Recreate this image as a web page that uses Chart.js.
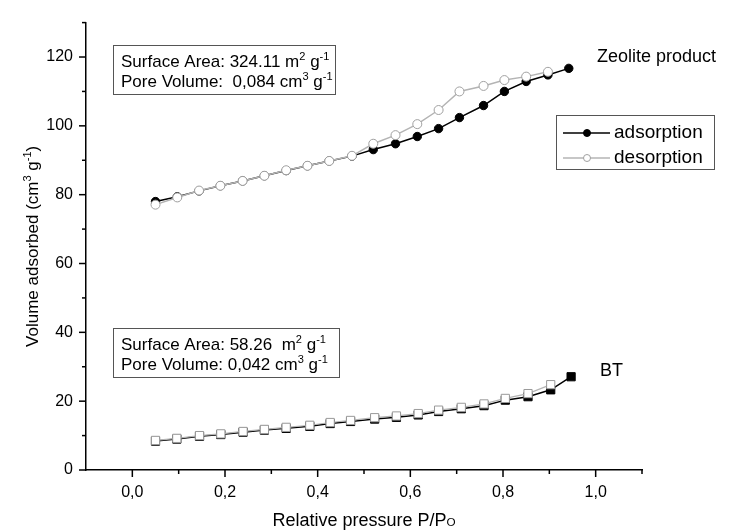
<!DOCTYPE html>
<html lang="en">
<head>
<meta charset="UTF-8">
<title>Isotherms</title>
<script src="https://cdn.jsdelivr.net/npm/chart.js"></script>
<style>
  html, body { margin: 0; padding: 0; background: #fff; }
  #wrap { width: 731px; height: 531px; }
</style>
</head>
<body>
<div id="wrap"><canvas id="chart" width="731" height="531"></canvas></div>
<script>
// relative pressure P/Po
const zeoP = [0.05, 0.097, 0.144, 0.19, 0.238, 0.285, 0.332, 0.378, 0.425, 0.474,
              0.52, 0.568, 0.615, 0.661, 0.706, 0.758, 0.803, 0.85, 0.897, 0.942];
const zeoAds = [78, 79.4, 81.1, 82.6, 84, 85.5, 87, 88.4, 89.8, 91.2,
                93.1, 94.8, 96.9, 99.2, 102.4, 105.9, 110, 112.9, 114.8, 116.7];
const zeoDes = [77.1, 79.2, 81.2, 82.6, 84, 85.5, 87.1, 88.4, 89.8, 91.3,
                94.8, 97.3, 100.5, 104.6, 110, 111.6, 113.3, 114.3, 115.7];

const btP = [0.05, 0.096, 0.145, 0.191, 0.239, 0.285, 0.332, 0.383, 0.427, 0.471,
             0.523, 0.57, 0.617, 0.661, 0.71, 0.759, 0.805, 0.854, 0.903, 0.947];
const btAds = [8.4, 9.0, 9.8, 10.3, 11.0, 11.6, 12.1, 12.7, 13.5, 14.1,
               14.8, 15.3, 16.0, 17.0, 17.8, 18.7, 20.3, 21.3, 23.3, 27.1];
const btDes = [8.6, 9.2, 10.0, 10.5, 11.2, 11.8, 12.4, 13.0, 13.8, 14.4,
               15.2, 15.7, 16.4, 17.4, 18.2, 19.2, 20.8, 22.2, 24.8];

const xMajor = [0, 0.2, 0.4, 0.6, 0.8, 1.0];
const xMinor = [0.1, 0.3, 0.5, 0.7, 0.9, 1.1];
const yMajor = [0, 20, 40, 60, 80, 100, 120];
const yMinor = [10, 30, 50, 70, 90, 110, 130];

const FONT = '"Liberation Sans", Arial, sans-serif';
const pts = (xs, ys) => ys.map((y, i) => ({ x: xs[i], y: y }));

// text with superscripts: parts = [[text, 'sup'|'sub'|''], ...]
function richWidth(ctx, parts, size) {
  let w = 0;
  parts.forEach(([t, k]) => {
    ctx.font = (k ? size * 0.65 : size) + 'px ' + FONT;
    w += ctx.measureText(t).width;
  });
  return w;
}
function drawRich(ctx, parts, x, y, size, align) {
  ctx.textBaseline = 'middle';
  ctx.textAlign = 'left';
  let cx = align === 'center' ? x - richWidth(ctx, parts, size) / 2 : x;
  parts.forEach(([t, k]) => {
    const s = k ? size * 0.65 : size;
    ctx.font = s + 'px ' + FONT;
    let dy = 0;
    if (k === 'sup') dy = -size * 0.3;
    if (k === 'sub') dy = size * 0.12;
    ctx.fillText(t, cx, y + dy);
    cx += ctx.measureText(t).width;
  });
}

const decor = {
  id: 'decor',
  afterDraw(chart) {
    const ctx = chart.ctx;
    const xs = chart.scales.x, ys = chart.scales.y;
    const ca = chart.chartArea;
    ctx.save();
    ctx.strokeStyle = '#000';
    ctx.lineWidth = 1.5;
    // tick marks
    const tick = (x1, y1, x2, y2) => { ctx.beginPath(); ctx.moveTo(x1, y1); ctx.lineTo(x2, y2); ctx.stroke(); };
    xMajor.forEach(v => { const px = xs.getPixelForValue(v); tick(px, ca.bottom, px, ca.bottom + 7); });
    xMinor.forEach(v => { const px = xs.getPixelForValue(v); tick(px, ca.bottom, px, ca.bottom + 4); });
    yMajor.forEach(v => { const py = ys.getPixelForValue(v); tick(ca.left, py, ca.left - 7, py); });
    yMinor.forEach(v => { const py = ys.getPixelForValue(v); tick(ca.left, py, ca.left - 4, py); });

    ctx.fillStyle = '#000';
    // axis titles
    drawRich(ctx, [['Relative pressure P/P', ''], ['O', 'sub']], (ca.left + ca.right) / 2, 521, 18, 'center');
    ctx.save();
    ctx.translate(33, (ca.top + ca.bottom) / 2);
    ctx.rotate(-Math.PI / 2);
    drawRich(ctx, [['Volume adsorbed (cm', ''], ['3', 'sup'], [' g', ''], ['-1', 'sup'], [')', '']], 0, 0, 17, 'center');
    ctx.restore();

    // info boxes
    ctx.strokeStyle = '#555';
    ctx.lineWidth = 1;
    ctx.strokeRect(113.5, 45.5, 222, 49);
    drawRich(ctx, [['Surface Area: 324.11 m', ''], ['2', 'sup'], [' g', ''], ['-1', 'sup']], 121, 62, 17);
    drawRich(ctx, [['Pore Volume:  0,084 cm', ''], ['3', 'sup'], [' g', ''], ['-1', 'sup']], 121, 82, 17);
    ctx.strokeRect(113.5, 328.5, 226, 49);
    drawRich(ctx, [['Surface Area: 58.26  m', ''], ['2', 'sup'], [' g', ''], ['-1', 'sup']], 121, 345, 17);
    drawRich(ctx, [['Pore Volume: 0,042 cm', ''], ['3', 'sup'], [' g', ''], ['-1', 'sup']], 121, 365, 17);

    // sample labels
    drawRich(ctx, [['Zeolite product', '']], 597, 57, 18);
    drawRich(ctx, [['BT', '']], 600, 371, 18);

    // legend
    ctx.strokeStyle = '#555';
    ctx.strokeRect(556.5, 115.5, 158, 54);
    const rows = [
      { y: 133, line: '#000', fill: '#000', stroke: '#000', text: 'adsorption' },
      { y: 158, line: '#b4b4b4', fill: '#fff', stroke: '#a0a0a0', text: 'desorption' }
    ];
    rows.forEach(r => {
      ctx.strokeStyle = r.line;
      ctx.lineWidth = 1.5;
      tick(563, r.y, 610, r.y);
      ctx.beginPath();
      ctx.arc(587, r.y, 3.5, 0, Math.PI * 2);
      ctx.fillStyle = r.fill;
      ctx.fill();
      ctx.strokeStyle = r.stroke;
      ctx.lineWidth = 1;
      ctx.stroke();
      ctx.fillStyle = '#000';
      drawRich(ctx, [[r.text, '']], 614, r.y, 19);
    });
    ctx.restore();
  }
};

new Chart(document.getElementById('chart'), {
  type: 'scatter',
  data: {
    datasets: [
      {
        label: 'desorption', data: pts(zeoP, zeoDes), showLine: true, order: 0,
        borderColor: '#b4b4b4', borderWidth: 1.5,
        pointStyle: 'circle', pointRadius: 4.5, pointBackgroundColor: '#fff',
        pointBorderColor: '#a0a0a0', pointBorderWidth: 1
      },
      {
        label: 'adsorption', data: pts(zeoP, zeoAds), showLine: true, order: 1,
        borderColor: '#000', borderWidth: 1.5,
        pointStyle: 'circle', pointRadius: 4.2, pointBackgroundColor: '#000',
        pointBorderColor: '#000', pointBorderWidth: 1
      },
      {
        label: 'BT desorption', data: pts(btP, btDes), showLine: true, order: 2,
        borderColor: '#b4b4b4', borderWidth: 1.2,
        pointStyle: 'rect', pointRadius: 5.8, pointBackgroundColor: '#fff',
        pointBorderColor: '#9a9a9a', pointBorderWidth: 1
      },
      {
        label: 'BT adsorption', data: pts(btP, btAds), showLine: true, order: 3,
        borderColor: '#000', borderWidth: 1.5,
        pointStyle: 'rect', pointRadius: 5.8, pointBackgroundColor: '#000',
        pointBorderColor: '#000', pointBorderWidth: 1
      }
    ]
  },
  options: {
    responsive: false,
    animation: false,
    layout: { padding: { top: 15, right: 89, left: 0, bottom: 0 } },
    plugins: { legend: { display: false }, tooltip: { enabled: false } },
    scales: {
      x: {
        type: 'linear', min: -0.1, max: 1.1,
        afterFit: s => { s.height = 61; },
        border: { color: '#000', width: 1.5 },
        grid: { display: false, drawTicks: false },
        ticks: {
          stepSize: 0.1, autoSkip: false, maxRotation: 0, padding: 13,
          color: '#000', font: { family: FONT, size: 16 },
          callback: v => {
            const r = Math.round(v * 10);
            return (r >= 0 && r % 2 === 0) ? (r / 10).toFixed(1).replace('.', ',') : '';
          }
        }
      },
      y: {
        type: 'linear', min: 0, max: 130,
        afterFit: s => { s.width = 86; },
        border: { color: '#000', width: 1.5 },
        grid: { display: false, drawTicks: false },
        ticks: {
          stepSize: 10, autoSkip: false, padding: 13,
          color: '#000', font: { family: FONT, size: 16 },
          callback: v => (Math.round(v) % 20 === 0 ? String(v) : '')
        }
      }
    }
  },
  plugins: [decor]
});
</script>
</body>
</html>
